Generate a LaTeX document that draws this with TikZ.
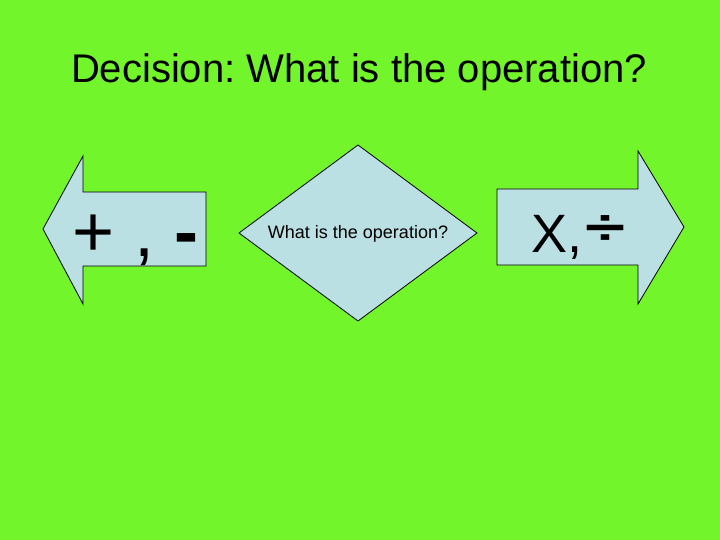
\documentclass[tikz,border=0pt]{standalone}
\usepackage{fontspec}
\setmainfont{Liberation Sans}
\frenchspacing
\definecolor{bg}{HTML}{73F52B}
\definecolor{shapefill}{HTML}{BBE0E3}
\begin{document}
\begin{tikzpicture}[x=1bp,y=-1bp,
  shapeline/.style={draw=black, line width=0.8bp, fill=shapefill, line join=miter},
  txt/.style={inner sep=0pt, text=black}]
\fill[bg] (0,0) rectangle (720,540);
\useasboundingbox (0,0) rectangle (720,540);
% title
\node[txt, anchor=base] (title) at (359,83) {\fontsize{40bp}{48bp}\selectfont Decision: What is the operation?};
% left arrow
\draw[shapeline] (43,229) -- (83,156) -- (83,192) -- (206,192) -- (206,266) -- (83,266) -- (83,304) -- cycle;
% diamond
\draw[shapeline] (358,145) -- (477,233) -- (358,321) -- (239,233) -- cycle;
% right arrow
\draw[shapeline] (497,189) -- (638,189) -- (638,151) -- (684,227) -- (638,304) -- (638,265) -- (497,265) -- cycle;
% texts
\node[txt, anchor=base west] (addsub) at (72,257) {\fontsize{72bp}{80bp}\selectfont + , \textbf{-}};
\node[txt, anchor=base] (question) at (358,239) {\fontsize{18bp}{22bp}\selectfont What is the operation?};
\node[txt, anchor=base west] (muldiv) at (531,253) {\fontsize{54bp}{60bp}\selectfont X,\hspace{3bp}\raisebox{8bp}{\scalebox{1.35}[0.92]{\bfseries ÷}}};
\end{tikzpicture}
\end{document}
